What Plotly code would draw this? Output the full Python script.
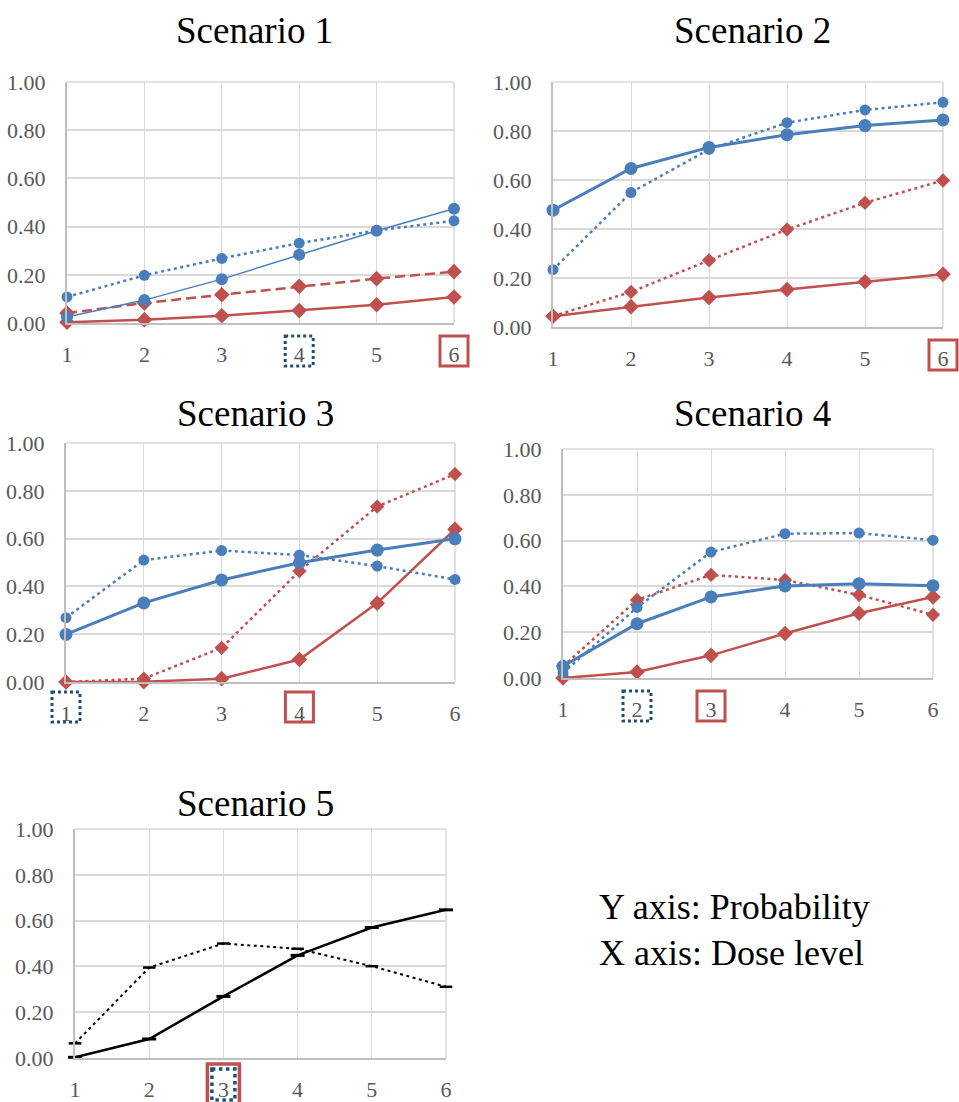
import plotly.graph_objects as go

W, H = 959, 1102

doses = [1, 2, 3, 4, 5, 6]
tick_labels = ["1", "2", "3", "4", "5", "6"]
y_ticks = [0.0, 0.2, 0.4, 0.6, 0.8, 1.0]
y_tick_labels = ["0.00", "0.20", "0.40", "0.60", "0.80", "1.00"]
titles = ["Scenario 1", "Scenario 2", "Scenario 3", "Scenario 4", "Scenario 5"]

s1_blue_solid = [0.025, 0.095, 0.182, 0.283, 0.383, 0.474]
s1_blue_dot = [0.108, 0.198, 0.268, 0.331, 0.384, 0.424]
s1_red_dash = [0.041, 0.083, 0.117, 0.152, 0.184, 0.213]
s1_red_solid = [0.003, 0.014, 0.030, 0.052, 0.076, 0.108]

s2_blue_solid = [0.477, 0.647, 0.733, 0.785, 0.822, 0.845]
s2_blue_dot = [0.234, 0.549, 0.725, 0.834, 0.886, 0.917]
s2_red_dot = [0.044, 0.143, 0.272, 0.398, 0.507, 0.598]
s2_red_solid = [0.044, 0.083, 0.120, 0.153, 0.185, 0.215]

s3_blue_solid = [0.199, 0.331, 0.427, 0.499, 0.552, 0.599]
s3_blue_dot = [0.269, 0.510, 0.550, 0.531, 0.485, 0.429]
s3_red_dot = [0.000, 0.014, 0.143, 0.464, 0.734, 0.870]
s3_red_solid = [0.000, 0.001, 0.014, 0.094, 0.330, 0.639]

s4_blue_solid = [0.051, 0.237, 0.354, 0.402, 0.412, 0.403]
s4_blue_dot = [0.022, 0.308, 0.550, 0.630, 0.633, 0.602]
s4_red_dot = [0.051, 0.341, 0.450, 0.428, 0.363, 0.276]
s4_red_solid = [0.000, 0.026, 0.099, 0.194, 0.283, 0.354]

s5_solid = [0.003, 0.083, 0.269, 0.448, 0.570, 0.647]
s5_dot = [0.064, 0.395, 0.500, 0.477, 0.401, 0.311]

# highlighted dose per scenario: (panel, dose, kind)
highlights = [
    (1, 4, "dot"), (1, 6, "red"),
    (2, 6, "red"),
    (3, 1, "dot"), (3, 4, "red"),
    (4, 2, "dot"), (4, 3, "red"),
    (5, 3, "red_big"), (5, 3, "dot_small"),
]

BLUE = "#4a7ebb"
RED = "#c0504d"
NAVY = "#1f4e79"
BLACK = "#000000"
GRID = "#d9d9d9"
AXIS = "#bfbfbf"
TICK = "#595959"
FONT = "Liberation Serif"

# plot-area pixel boxes (left, right, top, bottom)
boxes = {
    1: (67, 454, 82, 323),
    2: (553, 943, 82, 327),
    3: (66, 455, 443, 682),
    4: (563, 933, 449, 678),
    5: (75, 446, 829, 1058),
}

fig = go.Figure()

def dotted_line(color, width=2.5):
    return dict(color=color, width=width, dash="3px,3.5px")

def add(panel, y, color, line, symbol, size, mline=None):
    sfx = "" if panel == 1 else str(panel)
    fig.add_trace(go.Scatter(
        x=doses, y=y, mode="lines+markers",
        line=line,
        marker=dict(symbol=symbol, size=size, color=color,
                    line=mline or dict(width=0)),
        xaxis="x" + sfx, yaxis="y" + sfx, cliponaxis=False,
        showlegend=False, hoverinfo="skip",
    ))

# Scenario 1
add(1, s1_red_solid, RED, dict(color=RED, width=2.5), "diamond", 12)
add(1, s1_red_dash, RED, dict(color=RED, width=2.5, dash="10px,5px"), "diamond", 12)
add(1, s1_blue_dot, BLUE, dotted_line(BLUE), "circle", 11)
add(1, s1_blue_solid, BLUE, dict(color=BLUE, width=1.5), "circle", 12)
# Scenario 2
add(2, s2_red_solid, RED, dict(color=RED, width=2.5), "diamond", 12)
add(2, s2_red_dot, RED, dotted_line(RED), "diamond", 11)
add(2, s2_blue_dot, BLUE, dotted_line(BLUE), "circle", 11)
add(2, s2_blue_solid, BLUE, dict(color=BLUE, width=3), "circle", 13)
# Scenario 3
add(3, s3_red_solid, RED, dict(color=RED, width=2.5), "diamond", 12)
add(3, s3_red_dot, RED, dotted_line(RED), "diamond", 11)
add(3, s3_blue_dot, BLUE, dotted_line(BLUE), "circle", 11)
add(3, s3_blue_solid, BLUE, dict(color=BLUE, width=3), "circle", 13)
# Scenario 4
add(4, s4_red_solid, RED, dict(color=RED, width=2.5), "diamond", 12)
add(4, s4_red_dot, RED, dotted_line(RED), "diamond", 11)
add(4, s4_blue_dot, BLUE, dotted_line(BLUE), "circle", 11)
add(4, s4_blue_solid, BLUE, dict(color=BLUE, width=3), "circle", 13)
# Scenario 5
add(5, s5_dot, BLACK, dotted_line(BLACK, 2), "line-ew", 9, dict(width=2.5, color=BLACK))
add(5, s5_solid, BLACK, dict(color=BLACK, width=2.5), "line-ew", 10, dict(width=3, color=BLACK))

layout = dict(
    width=W, height=H, margin=dict(l=0, r=0, t=0, b=0, autoexpand=False),
    paper_bgcolor="white", plot_bgcolor="white",
    font=dict(family=FONT, color=TICK, size=22),
)
for p, (l, r, t, b) in boxes.items():
    sfx = "" if p == 1 else str(p)
    layout["xaxis" + sfx] = dict(
        domain=[l / W, r / W], range=[1, 6], anchor="y" + sfx,
        tickvals=doses, ticktext=tick_labels, automargin=False,
        showgrid=True, gridcolor=GRID, gridwidth=1,
        showline=True, linecolor=AXIS, linewidth=2,
        ticks="", ticklabelstandoff=11, zeroline=False,
        tickfont=dict(size=22, color=TICK, family=FONT), fixedrange=True,
    )
    layout["yaxis" + sfx] = dict(
        domain=[1 - b / H, 1 - t / H], range=[0, 1], anchor="x" + sfx,
        tickvals=y_ticks, ticktext=y_tick_labels, automargin=False,
        showgrid=True, gridcolor=GRID, gridwidth=1.5,
        showline=True, linecolor=AXIS, linewidth=2,
        ticks="", ticklabelstandoff=15, zeroline=False,
        tickfont=dict(size=22, color=TICK, family=FONT), fixedrange=True,
    )
fig.update_layout(**layout)

# right and top borders in grid colour
shapes = []
for p in boxes:
    sfx = "" if p == 1 else str(p)
    shapes.append(dict(type="line", xref="x" + sfx + " domain", yref="y" + sfx + " domain",
                       x0=1, x1=1, y0=0, y1=1, line=dict(color=GRID, width=1.5), layer="below"))
    shapes.append(dict(type="line", xref="x" + sfx + " domain", yref="y" + sfx + " domain",
                       x0=0, x1=1, y0=1, y1=1, line=dict(color=GRID, width=1.5), layer="below"))

for p, d, kind in highlights:
    sfx = "" if p == 1 else str(p)
    if kind == "red":
        half, y0, y1, col, dash, w = 14, -13, -43, RED, "solid", 3
    elif kind == "dot":
        half, y0, y1, col, dash, w = 14, -13, -43, NAVY, "dot", 3
    elif kind == "red_big":
        half, y0, y1, col, dash, w = 16, -6, -46, RED, "solid", 3.5
    else:
        half, y0, y1, col, dash, w = 11.5, -11, -42, NAVY, "dot", 3.5
    if p == 3 and kind in ("red", "dot"):
        y0, y1 = -10, -40
    xfrac = (d - doses[0]) / (doses[-1] - doses[0])
    shapes.append(dict(
        type="rect", xref="x" + sfx + " domain", yref="y" + sfx + " domain",
        xsizemode="pixel", ysizemode="pixel", xanchor=xfrac, yanchor=0,
        x0=-half, x1=half, y0=y0, y1=y1,
        line=dict(color=col, width=w, dash=dash), fillcolor="rgba(0,0,0,0)",
    ))
fig.update_layout(shapes=shapes)

title_pos = {1: (254, 31), 2: (752, 31), 3: (255, 413), 4: (752, 413), 5: (255, 803)}
ann = []
for p, (cx, cy) in title_pos.items():
    ann.append(dict(text=titles[p - 1], x=cx / W, y=1 - cy / H, xref="paper", yref="paper",
                    xanchor="center", yanchor="middle", showarrow=False,
                    font=dict(family=FONT, size=37, color="black")))
ann.append(dict(text="Y axis: Probability", x=597 / W, y=1 - 907 / H, xref="paper", yref="paper",
                xanchor="left", yanchor="middle", showarrow=False,
                font=dict(family=FONT, size=36, color="black")))
ann.append(dict(text="X axis: Dose level", x=597 / W, y=1 - 953 / H, xref="paper", yref="paper",
                xanchor="left", yanchor="middle", showarrow=False,
                font=dict(family=FONT, size=36, color="black")))
fig.update_layout(annotations=ann)

fig.write_html("out.html")
